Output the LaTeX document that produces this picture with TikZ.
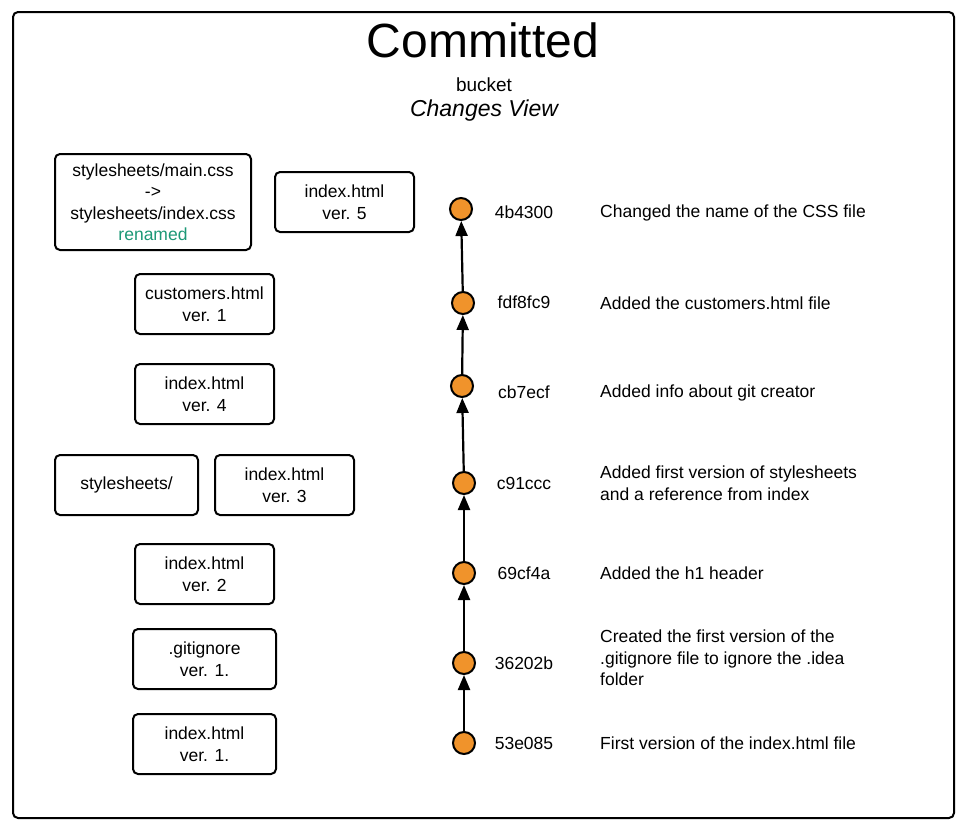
\documentclass[tikz,border=0pt]{standalone}
\usepackage{fontspec}
\setmainfont{Liberation Sans}
\usetikzlibrary{arrows.meta}
\definecolor{commitorange}{RGB}{240,147,43}
\definecolor{renamedgreen}{RGB}{28,152,118}
\tikzset{
  filebox/.style={draw=black, line width=2pt, rounded corners=5pt, align=center, inner sep=0pt,
    font=\fontsize{17.5}{21.5}\selectfont, minimum height=60pt},
  commit/.style={circle, draw=black, line width=2pt, fill=commitorange, minimum size=22pt, inner sep=0pt},
  hash/.style={font=\fontsize{17.5}{21.5}\selectfont, inner sep=0pt},
  desc/.style={font=\fontsize{17.5}{21.5}\selectfont, inner sep=0pt, anchor=west, align=left},
  link/.style={line width=2.2pt, -{Triangle[length=15pt,width=12pt]}}
}
\begin{document}
\begin{tikzpicture}[x=1pt,y=-1pt]
\useasboundingbox (0,0) rectangle (963,835);
\draw[line width=2pt, rounded corners=5pt] (13,12) rectangle (954,818);

\node[inner sep=0pt, font=\fontsize{48}{50}\selectfont] (title) at (483,40) {Committed};
\node[inner sep=0pt, font=\fontsize{19}{22}\selectfont] (bucket) at (484,85) {bucket};
\node[inner sep=0pt, font=\fontsize{23}{26}\selectfont\itshape] (view) at (484,111) {Changes View};

% file boxes
\node[filebox, minimum width=196pt, minimum height=96pt] (rename) at (153,202)
  {stylesheets/main.css\\->\\stylesheets/index.css\\\textcolor{renamedgreen}{renamed}};
\node[filebox, minimum width=139pt] (idx5) at (344.5,202) {index.html\\ver. 5};
\node[filebox, minimum width=139pt] (cust) at (204.5,304) {customers.html\\ver. 1};
\node[filebox, minimum width=139pt] (idx4) at (204.5,394) {index.html\\ver. 4};
\node[filebox, minimum width=143pt] (styles) at (126.5,485) {stylesheets/};
\node[filebox, minimum width=139pt] (idx3) at (284.5,485) {index.html\\ver. 3};
\node[filebox, minimum width=139pt] (idx2) at (204.5,574) {index.html\\ver. 2};
\node[filebox, minimum width=143pt] (gitig) at (204.5,659) {.gitignore\\ver. 1.};
\node[filebox, minimum width=143pt] (idx1) at (204.5,744) {index.html\\ver. 1.};

% commits
\node[commit] (c7) at (461,209) {};
\node[commit] (c6) at (463,303) {};
\node[commit] (c5) at (462,386) {};
\node[commit] (c4) at (464,483) {};
\node[commit] (c3) at (464,573) {};
\node[commit] (c2) at (464,663) {};
\node[commit] (c1) at (464,743) {};

\draw[link] (c1) -- (c2);
\draw[link] (c2) -- (c3);
\draw[link] (c3) -- (c4);
\draw[link] (c4) -- (c5);
\draw[link] (c5) -- (c6);
\draw[link] (c6) -- (c7);

% hashes
\node[hash] (h7) at (524,212) {4b4300};
\node[hash] (h6) at (524,302) {fdf8fc9};
\node[hash] (h5) at (524,392) {cb7ecf};
\node[hash] (h4) at (524,483) {c91ccc};
\node[hash] (h3) at (524,573) {69cf4a};
\node[hash] (h2) at (524,663) {36202b};
\node[hash] (h1) at (524,743) {53e085};

% descriptions
\node[desc] (d7) at (600,213) {Changed the name of the CSS file};
\node[desc] (d6) at (600,303) {Added the customers.html file};
\node[desc] (d5) at (600,393) {Added info about git creator};
\node[desc] (d4) at (600,483) {Added first version of stylesheets\\and a reference from index};
\node[desc] (d3) at (600,573) {Added the h1 header};
\node[desc] (d2) at (600,658) {Created the first version of the\\.gitignore file to ignore the .idea\\folder};
\node[desc] (d1) at (600,743) {First version of the index.html file};
\end{tikzpicture}
\end{document}
